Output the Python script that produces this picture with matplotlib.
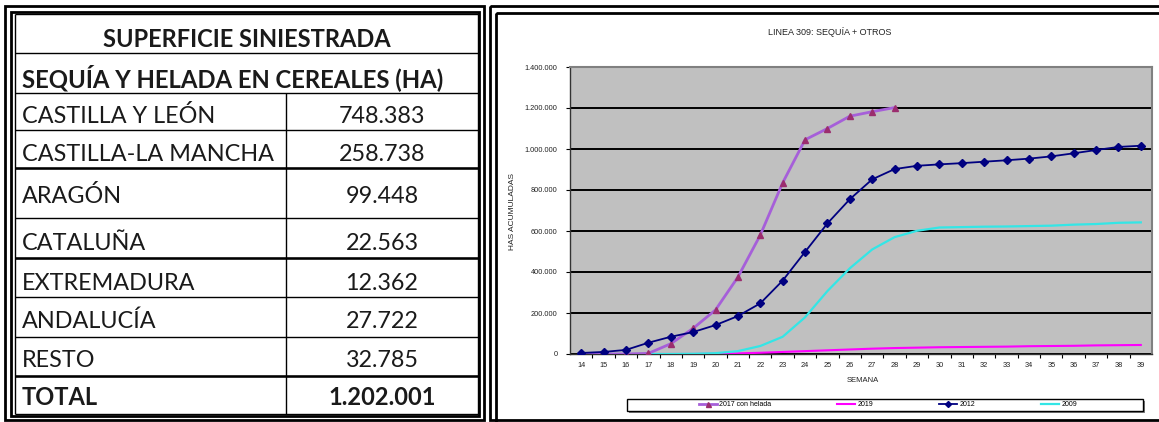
import matplotlib
matplotlib.use("Agg")
import matplotlib.pyplot as plt
import matplotlib.ticker as mticker
from matplotlib.patches import Rectangle
from matplotlib.lines import Line2D

# ---------------- data ----------------
table_title = "SUPERFICIE SINIESTRADA"
table_subtitle = "SEQUÍA Y HELADA EN CEREALES (HA)"
regions = ["CASTILLA Y LEÓN", "CASTILLA-LA MANCHA", "ARAGÓN", "CATALUÑA",
           "EXTREMADURA", "ANDALUCÍA", "RESTO"]
region_values = ["748.383", "258.738", "99.448", "22.563", "12.362", "27.722", "32.785"]
total_label = "TOTAL"
total_value = "1.202.001"

weeks = list(range(14, 40))
s2017 = [0, 0, 0, 3000, 50000, 125000, 215000, 375000, 580000, 835000,
         1045000, 1100000, 1160000, 1182000, 1202001]
s2019 = [0, 0, 0, 0, 0, 0, 1000, 3000, 6000, 10000, 14000, 18000, 22000,
         26000, 29000, 31000, 33000, 34000, 35000, 36000, 38000, 39000,
         40000, 42000, 43000, 44000]
s2012 = [5000, 10000, 20000, 55000, 84000, 107000, 141000, 185000, 247000,
         358000, 498000, 637000, 755000, 852000, 902000, 918000, 925000,
         931000, 938000, 945000, 953000, 964000, 979000, 995000, 1010000, 1016000]
s2009 = [0, 0, 0, 0, 0, 1000, 4000, 14000, 39000, 84000, 179000, 307000,
         418000, 510000, 570000, 601000, 617000, 619000, 621000, 622000,
         624000, 626000, 631000, 634000, 640000, 642000]
series_labels = ["2017 con helada", "2019", "2012", "2009"]

# ---------------- figure ----------------
W, H = 1159, 422
fig = plt.figure(figsize=(W / 100, H / 100), dpi=100)
bg = fig.add_axes([0, 0, 1, 1])
bg.set_xlim(0, W)
bg.set_ylim(H, 0)
bg.axis("off")

def hline(y, x0, x1, lw=1.0, c="black"):
    bg.add_line(Line2D([x0, x1], [y, y], lw=lw, color=c, solid_capstyle="butt"))

def vline(x, y0, y1, lw=1.0, c="black"):
    bg.add_line(Line2D([x, x], [y0, y1], lw=lw, color=c, solid_capstyle="butt"))

# panel double borders
for (x0, y0, x1, y1) in [(5, 6, 484, 420), (11, 12, 479, 416)]:
    bg.add_patch(Rectangle((x0, y0), x1 - x0, y1 - y0, fill=False, lw=2.0, ec="black"))
for (x0, y0, x1, y1) in [(490, 6, 1162, 420), (496, 13, 1162, 430)]:
    bg.add_patch(Rectangle((x0, y0), x1 - x0, y1 - y0, fill=False, lw=2.0, ec="black"))

# table grid
row_edges = [14, 53, 93, 130, 168, 218, 258, 297, 337, 376, 414]
for y in row_edges:
    hline(y, 15, 478, lw=1.0)
vline(15, 14, 414, lw=1.0)
vline(478, 14, 414, lw=1.0)
vline(286, 93, 414, lw=1.0)
for y in [168, 258, 376]:
    hline(y, 15, 478, lw=1.8)

tfont = ["Lato", "DejaVu Sans"]
tcol = "#1a1a1a"
bg.text(247, 47, table_title, ha="center", va="baseline", fontsize=17,
        fontweight="bold", family=tfont, color=tcol)
bg.text(22, 87, table_subtitle, ha="left", va="baseline", fontsize=17.2,
        fontweight="bold", family=tfont, color=tcol)
baselines = [123, 161, 203, 250, 290, 328, 367]
for name, val, yb in zip(regions, region_values, baselines):
    bg.text(22, yb, name, ha="left", va="baseline", fontsize=16.8, family=tfont, color=tcol)
    bg.text(382, yb, val, ha="center", va="baseline", fontsize=16.8, family=tfont, color=tcol)
bg.text(22, 405, total_label, ha="left", va="baseline", fontsize=17,
        fontweight="bold", family=tfont, color=tcol)
bg.text(382, 405, total_value, ha="center", va="baseline", fontsize=17,
        fontweight="bold", family=tfont, color=tcol)

# ---------------- chart ----------------
cfont = ["Liberation Sans", "DejaVu Sans"]
L, R, T, B = 570, 1152, 67, 354
ax = fig.add_axes([L / W, (H - B) / H, (R - L) / W, (B - T) / H])
ax.set_facecolor("#C0C0C0")
idx = list(range(len(weeks)))
ax.set_xlim(-0.5, len(weeks) - 0.5)
ax.set_ylim(0, 1400000)
ax.set_yticks(range(0, 1400001, 200000))
ax.yaxis.set_major_formatter(mticker.FuncFormatter(lambda v, p: f"{int(v):,}".replace(",", ".")))
ax.grid(axis="y", color="black", lw=1.4)
ax.set_axisbelow(True)
ax.set_xticks(idx)
ax.set_xticklabels([str(w) for w in weeks])
ax.set_xticks([i + 0.5 for i in idx[:-1]], minor=True)
ax.tick_params(axis="x", which="major", length=0, labelsize=5.3, pad=6)
ax.tick_params(axis="x", which="minor", length=3, width=0.8, direction="out")
ax.tick_params(axis="y", length=3, width=0.8, labelsize=5.3, pad=6)
for lab in ax.get_xticklabels() + ax.get_yticklabels():
    lab.set_family(cfont)
    lab.set_color("#222222")
for s in ["top", "right"]:
    ax.spines[s].set_color("#808080")
    ax.spines[s].set_linewidth(1.5)
for s in ["left", "bottom"]:
    ax.spines[s].set_color("#333333")
    ax.spines[s].set_linewidth(1.0)

l1, = ax.plot(idx[:len(s2017)], s2017, color="#A65FD9", lw=2.0, marker="^",
              ms=4.5, mfc="#9B2D6E", mec="#9B2D6E", label=series_labels[0], zorder=4)
l2, = ax.plot(idx, s2019, color="#FF00FF", lw=1.5, label=series_labels[1], zorder=3)
l3, = ax.plot(idx, s2012, color="#000080", lw=1.3, marker="D", ms=3.8,
              mfc="#000080", mec="#000080", label=series_labels[2], zorder=4)
l4, = ax.plot(idx, s2009, color="#33E6E6", lw=1.6, label=series_labels[3], zorder=3)

fig.text(830 / W, (H - 32) / H, "LINEA 309: SEQUÍA + OTROS", ha="center", va="center",
         fontsize=6.5, family=cfont, color="#222222")
fig.text(513 / W, (H - 212) / H, "HAS ACUMULADAS", ha="center", va="center",
         rotation=90, fontsize=6, family=cfont, color="#222222")
fig.text(863 / W, (H - 381) / H, "SEMANA", ha="center", va="center",
         fontsize=5.5, family=cfont, color="#222222")

# legend
bg.add_patch(Rectangle((629, 401), 516, 12, fc="#808080", ec="none"))
bg.add_patch(Rectangle((627, 399), 516, 12, fc="white", ec="black", lw=1.0))
leg = fig.legend(handles=[l1, l2, l3, l4], loc="center", ncol=4,
                 bbox_to_anchor=(888 / W, (H - 405) / H), frameon=False,
                 prop={"family": cfont, "size": 5}, handlelength=2.6,
                 columnspacing=9.5, handletextpad=0.3, markerscale=0.8)

fig.savefig("out.png", dpi=100)
